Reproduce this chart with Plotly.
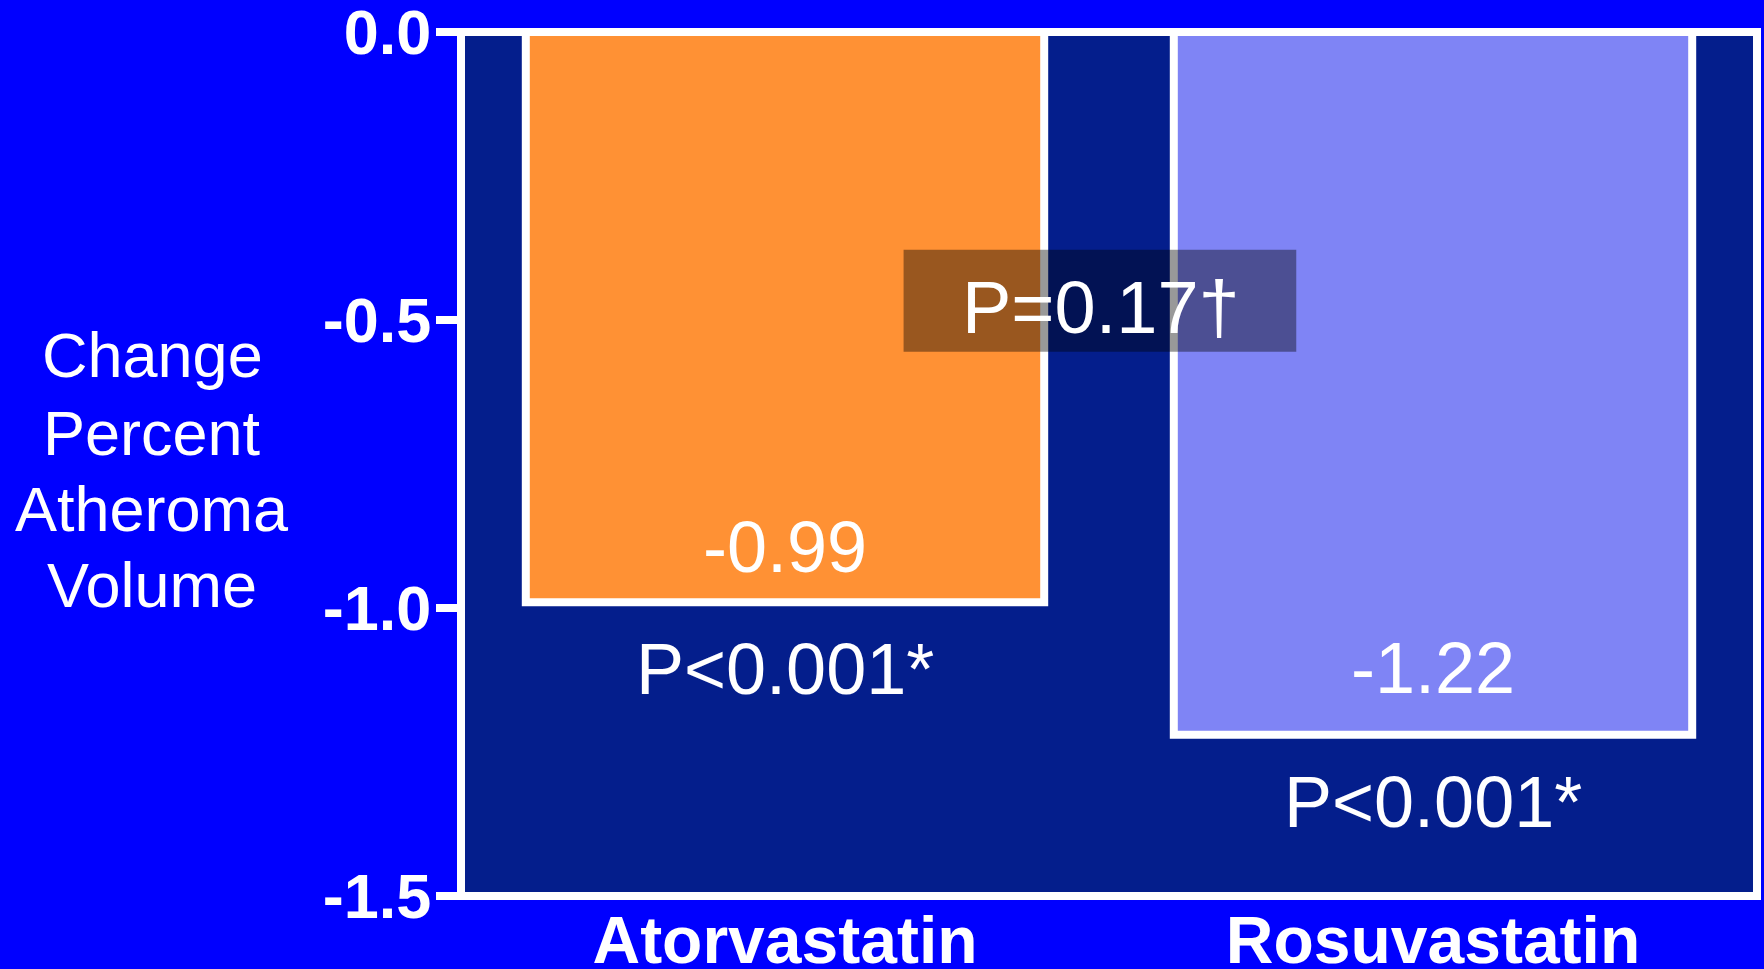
import plotly.graph_objects as go

categories = ["Atorvastatin", "Rosuvastatin"]
values = [-0.99, -1.22]
value_labels = ["-0.99", "-1.22"]
p_labels = ["P<0.001*", "P<0.001*"]
bar_colors = ["#FF9134", "#7F84F5"]
between_label = "P=0.17\u2020"
y_ticks = [0.0, -0.5, -1.0, -1.5]
y_tick_labels = ["0.0", "-0.5", "-1.0", "-1.5"]
y_title_lines = ["Change", "Percent", "Atheroma", "Volume"]

FONT = "Arial, Liberation Sans, sans-serif"
WHITE = "#FFFFFF"
W, H = 1764, 969
ML, MR, MT, MB = 461, 7, 32, 73
plot_w = W - ML - MR
plot_h = H - MT - MB

fig = go.Figure()
fig.add_trace(go.Bar(
    x=categories, y=values,
    marker=dict(color=bar_colors, line=dict(color=WHITE, width=8)),
    width=0.8, hoverinfo="skip", showlegend=False,
))
# empty helper trace so the tick-mark axis (y2) is drawn
fig.add_trace(go.Scatter(x=[None], y=[None], yaxis="y2", mode="markers",
                         hoverinfo="skip", showlegend=False))

# value labels inside bars near the end
value_shift = [55, 67]
for cat, v, lab, s in zip(categories, values, value_labels, value_shift):
    fig.add_annotation(x=cat, y=v, text=lab, showarrow=False, yanchor="middle",
                       yshift=s, font=dict(family=FONT, size=72, color=WHITE))
# p labels below bars
for cat, v, lab in zip(categories, values, p_labels):
    fig.add_annotation(x=cat, y=v, text=lab, showarrow=False, yanchor="middle",
                       yshift=-67, font=dict(family=FONT, size=72, color=WHITE))

# semi-transparent box with between-group p value
fig.add_shape(type="rect", xref="x", yref="y", x0=0.183, x1=0.789, y0=-0.378, y1=-0.555,
              fillcolor="rgba(0,0,0,0.4)", line=dict(width=0), layer="above")
fig.add_annotation(x=0.487, y=-0.478, xref="x", yref="y", text=between_label, showarrow=False,
                   yanchor="middle", font=dict(family=FONT, size=74, color=WHITE))

# white frame around the plot area, centred on the plot edges
fig.add_shape(type="rect", xref="paper", yref="paper", x0=0, x1=1, y0=0, y1=1,
              line=dict(color=WHITE, width=8), fillcolor="rgba(0,0,0,0)", layer="above")

# y axis title, one line per annotation (pixel centres converted to paper coords)
title_px = [355, 433, 509, 585]
for line, py in zip(y_title_lines, title_px):
    fig.add_annotation(x=(152 - ML) / plot_w, y=1 - (py - MT) / plot_h,
                       xref="paper", yref="paper", text=line, showarrow=False,
                       xanchor="center", yanchor="middle",
                       font=dict(family=FONT, size=63, color=WHITE))

fig.update_layout(
    width=W, height=H,
    margin=dict(l=ML, r=MR, t=MT, b=MB, pad=0),
    paper_bgcolor="#0000FF",
    plot_bgcolor="#041E8C",
    bargap=0.2,
    font=dict(family=FONT, color=WHITE),
    xaxis=dict(
        range=[-0.5, 1.5], showgrid=False, zeroline=False, automargin=False,
        showline=False, ticks="", ticklabeloverflow="allow",
        tickfont=dict(family=FONT, size=66, color=WHITE, weight="bold"),
        ticklabelstandoff=0,
    ),
    # labels only (invisible short ticks set the label offset)
    yaxis=dict(
        range=[-1.5, 0.0], showgrid=False, zeroline=False, automargin=False,
        showline=False, ticklabeloverflow="allow",
        tickvals=y_ticks, ticktext=y_tick_labels,
        ticks="outside", ticklen=16, tickwidth=8, tickcolor="rgba(0,0,0,0)",
        tickfont=dict(family=FONT, size=63, color=WHITE, weight="bold"),
        ticklabelstandoff=0,
    ),
    # visible tick marks
    yaxis2=dict(
        overlaying="y", side="left", range=[-1.5, 0.0], showgrid=False, zeroline=False,
        automargin=False, showline=False, showticklabels=False,
        tickvals=y_ticks, ticks="outside", ticklen=24, tickwidth=8, tickcolor=WHITE,
    ),
)

fig.write_html(
    "out.html",
    config={"displayModeBar": False},
    post_script="document.body.style.margin='0';document.body.style.background='#0000FF';"
                "document.body.style.overflow='hidden';",
)
